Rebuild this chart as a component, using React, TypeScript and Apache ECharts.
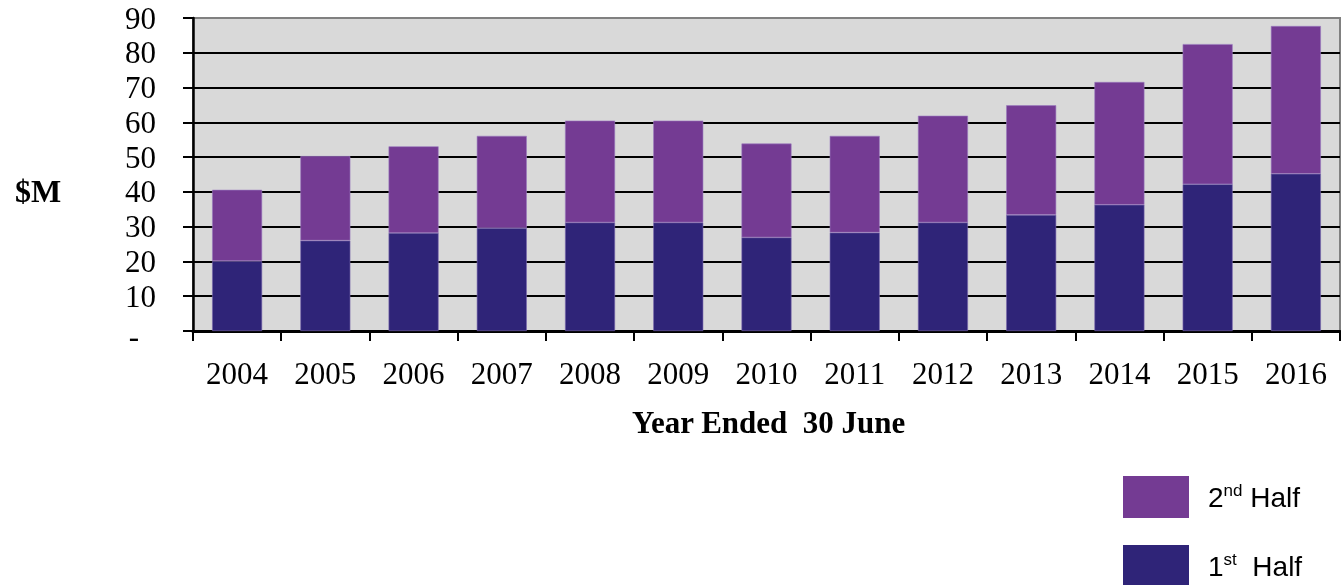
import React, { useEffect, useRef } from "react";
import * as echarts from "echarts";

const years = ["2004", "2005", "2006", "2007", "2008", "2009", "2010", "2011", "2012", "2013", "2014", "2015", "2016"];
const firstHalf = [20.1, 26.0, 28.2, 29.6, 31.2, 31.2, 26.9, 28.3, 31.2, 33.4, 36.3, 42.2, 45.2];
const secondHalf = [20.5, 24.3, 24.9, 26.5, 29.3, 29.3, 27.0, 27.8, 30.7, 31.5, 35.3, 40.3, 42.5];
const yTicks = [0, 10, 20, 30, 40, 50, 60, 70, 80, 90];

const SERIF = "'Liberation Serif', 'Times New Roman', serif";
const SANS = "'Liberation Sans', Arial, sans-serif";

const legendText = {
  fontFamily: SANS,
  fontSize: 28,
  color: "#000",
  padding: [0, 0, 0, 14],
  rich: {
    b: { fontFamily: SANS, fontSize: 28, color: "#000" },
    s: { fontFamily: SANS, fontSize: 17, color: "#000", padding: [0, 0, 14, 0] },
  },
};
const legendFormatter = (name: string) =>
  name === "2nd Half" ? "{b|2}{s|nd}{b| Half}" : "{b|1}{s|st}{b|  Half}";

export default function App() {
  const ref = useRef<HTMLDivElement>(null);
  useEffect(() => {
    if (!ref.current) return;
    const chart = echarts.init(ref.current, undefined, { renderer: "svg" });
    const splitColors = yTicks.map((v) => (v === 90 ? "#808080" : "#000000"));
    const legendBase = {
      left: 1123,
      padding: 0,
      itemWidth: 66,
      itemHeight: 42,
      icon: "rect",
      selectedMode: false,
      itemStyle: { borderWidth: 0 },
      textStyle: legendText,
      formatter: legendFormatter,
    };
    chart.setOption({
      animation: false,
      grid: {
        left: 193,
        right: 1,
        top: 18,
        bottom: 254,
        show: true,
        backgroundColor: "#D9D9D9",
        borderColor: "#808080",
        borderWidth: 2,
      },
      legend: [
        { ...legendBase, top: 476, data: ["2nd Half"] },
        { ...legendBase, top: 545, data: ["1st Half"] },
      ],
      graphic: [
        {
          type: "text",
          left: 15,
          top: 175,
          style: { text: "$M", font: `bold 32px ${SERIF}`, fill: "#000" },
        },
        {
          type: "text",
          left: 632,
          top: 407,
          style: { text: "Year Ended  30 June", font: `bold 31px ${SERIF}`, fill: "#000" },
        },
      ],
      xAxis: {
        type: "category",
        data: years,
        axisLine: { lineStyle: { color: "#000", width: 3 } },
        axisTick: { show: true, length: 10, lineStyle: { color: "#000", width: 2 } },
        axisLabel: { fontFamily: SERIF, fontSize: 31, color: "#000", margin: 27 },
        splitLine: { show: false },
      },
      yAxis: {
        type: "value",
        min: 0,
        max: 90,
        interval: 10,
        axisLine: { show: true, lineStyle: { color: "#000", width: 2.5 } },
        axisTick: { show: true, length: 10, lineStyle: { color: "#000", width: 2 } },
        axisLabel: {
          fontFamily: SERIF,
          fontSize: 31,
          color: "#000",
          margin: 37,
          formatter: (v: number) => (v === 0 ? "{d|-}" : String(v)),
          rich: { d: { fontFamily: SERIF, fontSize: 31, color: "#000", padding: [10, 17, 0, 0] } },
        },
        splitLine: { show: true, lineStyle: { color: splitColors, width: 2 } },
      },
      series: [
        {
          name: "1st Half",
          type: "bar",
          stack: "total",
          data: firstHalf,
          barWidth: 50,
          itemStyle: { color: "#2F2478", borderColor: "#7A68AE", borderWidth: 0.6 },
        },
        {
          name: "2nd Half",
          type: "bar",
          stack: "total",
          data: secondHalf,
          barWidth: 50,
          itemStyle: { color: "#743B93", borderColor: "#9A7BBF", borderWidth: 0.6 },
        },
      ],
    });
    return () => chart.dispose();
  }, []);
  return <div ref={ref} style={{ position: "fixed", left: 0, top: 0, width: 1341, height: 585 }} />;
}
